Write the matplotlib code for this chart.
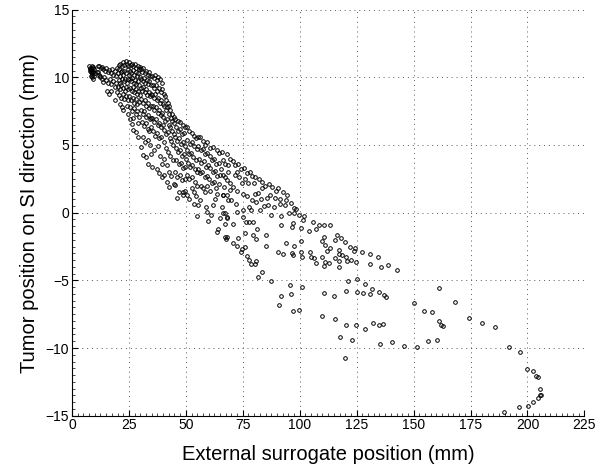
"""Tumor SI position vs external surrogate position scatter."""

import matplotlib
matplotlib.use("Agg")
import matplotlib.pyplot as plt
from matplotlib.ticker import MultipleLocator
import numpy as np

# points, (surrogate mm, tumor mm), grouped by region
top_cluster = [
    (7.6, 10.8), (8.0, 10.7), (8.3, 10.6), (8.7, 10.8), (9.0, 10.5), (9.3, 10.7), (7.8, 10.5),
    (8.2, 10.4), (8.6, 10.3), (9.0, 10.2), (9.4, 10.4), (9.8, 10.6), (8.4, 10.1), (8.9, 10.0),
    (9.2, 9.9), (9.6, 10.1), (10.0, 10.3), (7.7, 10.65), (8.5, 10.55), (9.1, 10.75),
]

band_10_20 = [
    (11.5, 10.8), (12.0, 10.85), (12.6, 10.7), (13.2, 10.75), (13.8, 10.6), (14.5, 10.5),
    (15.0, 10.7), (15.6, 10.4), (16.3, 10.55), (17.0, 10.3), (17.5, 10.6), (18.2, 10.2),
    (18.8, 10.45), (19.5, 10.1), (19.8, 10.7), (11.0, 10.4), (11.8, 10.2), (12.5, 10.1),
    (13.3, 9.9), (14.1, 10.0), (15.0, 9.8), (15.8, 9.6), (16.5, 9.9), (17.3, 9.5), (18.0, 9.7),
    (18.7, 9.3), (19.4, 9.6), (11.3, 10.37), (12.3, 10.0), (13.8, 9.64), (15.3, 9.02),
    (17.2, 8.97), (18.9, 8.36), (16.2, 8.8), (19.9, 8.9),
]

band_20_30 = [
    (20.5, 10.9), (21.2, 11.0), (21.8, 10.8), (22.5, 11.1), (23.0, 10.9), (23.6, 11.2),
    (24.2, 11.0), (24.8, 10.85), (20.8, 10.6), (22.0, 10.5), (20.3, 10.3), (21.0, 10.1),
    (21.7, 10.4), (22.3, 10.2), (23.0, 10.5), (23.7, 10.3), (24.4, 10.6), (24.9, 10.2),
    (20.6, 9.8), (21.3, 9.6), (22.0, 9.9), (22.7, 9.7), (23.4, 9.9), (24.1, 9.6), (24.7, 9.85),
    (20.2, 9.3), (21.0, 9.1), (21.7, 9.4), (22.4, 9.2), (23.1, 9.0), (23.8, 9.3), (24.5, 9.1),
    (20.8, 8.7), (21.5, 8.5), (22.3, 8.8), (23.0, 8.4), (23.7, 8.6), (24.4, 8.3), (21.1, 8.05),
    (21.9, 7.8), (22.6, 7.55), (24.0, 7.9), (24.8, 7.3),
    (25.2, 11.1), (25.8, 10.9), (26.4, 11.0), (27.0, 10.8), (27.6, 10.95), (28.2, 10.7),
    (28.8, 10.85), (29.4, 10.6), (29.9, 10.75), (25.5, 10.5), (26.1, 10.3), (26.7, 10.55),
    (27.3, 10.2), (27.9, 10.4), (28.5, 10.1), (29.1, 10.3), (29.7, 10.0), (25.3, 9.9),
    (25.9, 9.7), (26.5, 9.95), (27.1, 9.6), (27.7, 9.8), (28.3, 9.5), (28.9, 9.7), (29.5, 9.4),
    (25.6, 9.2), (26.2, 9.0), (26.8, 9.3), (27.4, 8.9), (28.0, 9.1), (28.6, 8.8), (29.2, 9.0),
    (29.8, 8.7), (25.2, 8.6), (25.9, 8.3), (26.6, 8.5), (27.3, 8.1), (28.0, 8.4), (28.7, 8.0),
    (29.4, 8.2), (25.5, 7.8), (26.3, 7.5), (27.1, 7.7), (27.9, 7.3), (28.6, 7.5), (29.5, 7.1),
    (25.5, 6.94), (26.3, 6.57), (27.0, 6.08), (28.2, 5.96), (29.2, 5.59), (26.8, 7.0), (28.9, 6.6),
]

band_30_40 = [
    (30.2, 10.6), (30.8, 10.4), (31.4, 10.7), (32.0, 10.3), (32.6, 10.5), (33.2, 10.2),
    (33.8, 10.4), (34.4, 10.1), (30.4, 9.9), (31.0, 9.7), (31.6, 9.95), (32.2, 9.6), (32.8, 9.8),
    (33.4, 9.5), (34.0, 9.7), (34.7, 9.4), (30.1, 9.2), (30.7, 9.0), (31.3, 9.3), (31.9, 8.9),
    (32.5, 9.1), (33.1, 8.7), (33.7, 8.9), (34.3, 8.6), (34.9, 8.8), (30.5, 8.4), (31.2, 8.1),
    (31.9, 8.3), (32.6, 7.9), (33.3, 8.1), (34.0, 7.7), (34.7, 7.9), (30.3, 7.6), (31.0, 7.3),
    (31.8, 7.5), (32.5, 7.1), (33.3, 7.2), (34.1, 6.9), (34.8, 7.0), (30.6, 6.7), (31.5, 6.4),
    (32.4, 6.6), (33.2, 6.2), (34.0, 6.0), (34.8, 6.3), (30.2, 4.85), (31.4, 4.24), (32.5, 4.12),
    (33.6, 3.63), (31.0, 5.6), (32.0, 5.2), (33.2, 5.4), (34.3, 5.0), (34.6, 4.3),
    (35.2, 10.1), (35.8, 9.96), (36.5, 10.2), (37.2, 9.8), (37.9, 10.0), (38.7, 9.9), (39.4, 9.6),
    (35.4, 9.4), (36.1, 9.2), (36.8, 9.45), (37.5, 9.0), (38.2, 9.2), (38.9, 8.9), (39.6, 9.1),
    (35.1, 8.7), (35.8, 8.5), (36.5, 8.75), (37.2, 8.3), (37.9, 8.5), (38.6, 8.1), (39.3, 8.3),
    (39.9, 8.0), (35.5, 7.9), (36.2, 7.6), (36.9, 7.8), (37.6, 7.4), (38.3, 7.6), (39.0, 7.2),
    (39.7, 7.4), (35.3, 7.0), (36.0, 6.7), (36.8, 6.9), (37.6, 6.5), (38.4, 6.6), (39.2, 6.3),
    (39.9, 6.5), (35.6, 6.0), (36.5, 5.7), (37.4, 5.9), (38.3, 5.5), (39.1, 5.6), (35.0, 3.39),
    (37.2, 3.25), (36.2, 4.6), (37.8, 4.9), (38.8, 4.2), (39.5, 3.6), (38.0, 2.9), (39.6, 2.6),
]

band_40_60 = [
    (40.2, 8.8), (41.2, 8.3), (40.8, 8.6), (42.0, 8.1), (43.1, 7.55), (42.6, 7.9), (44.0, 7.3),
    (44.7, 7.1), (40.4, 7.9), (41.1, 7.6), (41.8, 7.8), (42.5, 7.3), (43.3, 7.0), (44.1, 6.8),
    (44.8, 6.6), (40.1, 7.1), (40.9, 6.8), (41.7, 6.95), (42.4, 6.5), (43.2, 6.3), (44.0, 6.0),
    (44.7, 5.8), (40.5, 6.1), (41.3, 5.8), (42.1, 5.95), (42.9, 5.5), (43.7, 5.3), (44.5, 5.0),
    (40.3, 5.2), (41.2, 4.8), (42.2, 4.5), (43.2, 4.2), (44.2, 3.9), (40.6, 4.0), (41.6, 3.5),
    (42.6, 3.0), (43.6, 2.7), (41.6, 2.27), (44.6, 2.15), (42.8, 1.9), (40.3, 2.8),
    (45.3, 6.9), (46.4, 6.8), (47.5, 6.7), (48.6, 6.5), (49.5, 6.3), (45.6, 6.3), (46.5, 6.0),
    (47.4, 6.2), (48.3, 5.8), (49.2, 5.9), (45.2, 5.6), (46.1, 5.3), (47.0, 5.5), (47.9, 5.1),
    (48.8, 5.2), (49.7, 4.9), (45.5, 4.8), (46.4, 4.5), (47.3, 4.6), (48.2, 4.2), (49.1, 4.3),
    (49.9, 4.0), (45.8, 3.9), (46.8, 3.6), (47.8, 3.7), (48.8, 3.3), (49.6, 3.4), (45.3, 3.0),
    (46.3, 2.6), (47.4, 2.8), (48.5, 2.4), (49.5, 2.5), (45.3, 2.03), (47.1, 1.53), (48.9, 1.53),
    (48.9, 1.29), (46.2, 1.1), (49.8, 1.6),
    (50.4, 6.3), (51.5, 6.0), (52.5, 5.9), (53.4, 5.7), (54.4, 5.5), (50.7, 5.4), (51.7, 5.1),
    (52.7, 5.2), (53.7, 4.9), (54.7, 4.7), (50.3, 4.6), (51.3, 4.3), (52.3, 4.4), (53.3, 4.1),
    (54.3, 3.9), (50.8, 3.7), (51.8, 3.4), (52.8, 3.5), (53.8, 3.2), (54.8, 3.0), (50.5, 2.8),
    (51.6, 2.5), (52.7, 2.6), (53.8, 2.3), (54.8, 2.0), (51.2, 1.04), (53.4, 0.67), (53.6, 1.53),
    (52.5, 1.8), (50.5, 1.3), (54.6, 1.2),
    (55.2, 5.6), (56.3, 5.6), (57.7, 5.3), (59.2, 5.2), (58.4, 5.0), (55.5, 4.9), (56.5, 4.6),
    (57.5, 4.7), (58.5, 4.3), (59.5, 4.4), (55.8, 4.0), (56.8, 3.7), (57.8, 3.8), (58.8, 3.4),
    (59.8, 3.5), (55.3, 3.2), (56.3, 2.9), (57.3, 3.0), (58.3, 2.6), (59.3, 2.7), (55.5, 0.55),
    (56.0, 0.97), (58.2, 1.53), (58.8, 0.43), (59.2, 0.06), (55.1, -0.23), (59.6, -0.6),
    (56.5, 2.0), (57.6, 1.8), (59.4, 2.0),
]

band_60_100 = [
    (60.7, 4.8), (62.1, 4.85), (63.6, 4.6), (64.6, 4.4), (60.4, 4.2), (61.4, 3.9), (62.4, 4.0),
    (63.4, 3.6), (64.4, 3.7), (60.8, 3.3), (61.8, 3.0), (62.8, 3.1), (63.8, 2.7), (64.8, 2.8),
    (60.3, 2.5), (61.3, 2.2), (62.3, 2.3), (64.5, 2.15), (63.2, 1.85), (63.6, 1.41),
    (62.9, 1.04), (61.1, -0.18), (64.3, -1.17), (63.6, -1.41), (61.8, 0.6), (60.5, 1.6),
    (65.8, 4.5), (66.5, 3.9), (68.0, 4.35), (68.7, 3.5), (68.7, 3.0), (67.3, 3.6), (69.6, 4.0),
    (65.3, 3.2), (66.2, 2.8), (67.2, 2.6), (68.2, 2.4), (69.2, 2.2), (66.2, 1.29), (65.8, 0.43),
    (66.5, -0.06), (68.0, -0.31), (68.0, -1.78), (67.6, -1.95), (68.7, 0.92), (67.1, -1.83),
    (66.4, 1.29), (68.0, 1.34), (69.9, 0.92), (67.0, -0.06), (67.0, -0.8), (68.0, -0.43),
    (65.1, -0.43), (66.8, 1.9), (69.5, 1.7),
    (70.6, -2.22), (72.4, -2.49), (74.3, -2.91), (74.6, -2.69), (75.8, -2.54), (76.9, -3.23),
    (77.7, -3.5), (78.4, -3.77), (80.2, -3.77), (80.6, -3.6), (79.4, -1.68), (80.6, -1.98),
    (81.3, -1.22), (75.8, -1.49), (73.1, -1.9), (76.5, -0.72), (77.8, -0.72), (79.4, -0.72),
    (75.3, -0.31), (74.9, 0.18), (78.5, 0.21), (77.9, 0.43), (82.6, 0.18), (84.3, 0.5),
    (86.0, 0.6), (87.5, -0.14), (88.5, 0.43), (89.3, 1.12), (89.7, 1.61), (91.2, 0.63),
    (91.7, -0.26), (92.0, -0.9), (93.6, 0.55), (95.2, -0.06), (96.5, -1.04), (96.98, -0.75),
    (97.3, -0.06), (97.6, 0.33), (84.6, 1.98), (83.4, 1.85), (80.3, 1.41), (81.9, 1.48),
    (80.0, 2.2), (77.5, 2.2), (74.6, 2.2), (72.0, 0.63), (72.4, 0.06), (70.9, -0.8),
    (70.5, 3.8), (71.8, 3.5), (73.0, 3.6), (74.2, 3.2), (75.5, 3.3), (76.8, 2.9), (78.0, 3.0),
    (79.2, 2.7), (80.5, 2.6), (71.5, 2.8), (73.5, 2.6), (72.6, 3.0), (76.0, 2.5), (82.0, 2.5),
    (83.5, 2.3), (86.5, 2.1), (88.0, 1.9), (90.5, 1.8), (92.5, 1.5), (94.5, 1.3), (70.8, 1.9),
    (72.3, 1.6), (75.0, 1.4), (77.0, 1.2), (79.0, 0.9), (81.0, 0.8), (83.0, 1.0), (85.5, 1.1),
    (87.0, 1.3), (91.5, 1.0), (94.0, 0.9), (96.0, 0.7), (98.5, 0.3), (99.5, -0.2),
    (85.3, -2.47), (85.3, -1.66), (90.6, -2.89), (92.6, -3.06), (94.1, -2.27), (96.4, -3.01),
    (96.98, -3.16), (97.7, -2.49),
]

band_100_145 = [
    (100.4, -2.12), (101.1, -3.25), (100.7, -2.91), (100.7, -1.12), (101.4, -0.55), (102.0, -0.23),
    (104.0, -1.34), (105.8, -0.7), (107.2, -1.17), (108.3, -0.92), (110.5, -0.94), (113.4, -0.94),
    (110.5, -1.78), (110.0, -2.12), (110.9, -2.42), (112.2, -2.81), (113.4, -2.64), (109.7, -3.3),
    (111.2, -3.62), (110.6, -3.96), (112.8, -3.74), (107.1, -3.74), (104.9, -3.25), (104.6, -2.88),
    (106.3, -3.33), (115.6, -2.03), (116.5, -1.63), (118.2, -1.85), (119.7, -2.18), (117.1, -2.76),
    (117.3, -3.06), (118.5, -3.11), (115.6, -3.33), (117.1, -3.6), (117.1, -4.02), (120.4, -3.26),
    (120.9, -3.57), (122.3, -2.52), (122.6, -3.53), (123.8, -2.84), (124.1, -2.59), (124.8, -3.65),
    (127.2, -2.89), (131.0, -3.03), (134.3, -3.28), (130.7, -3.8), (135.8, -3.99), (138.7, -3.89),
    (142.7, -4.21),
]

lower_fringe = [
    (81.6, -4.75), (83.5, -4.38), (87.3, -5.03), (92.0, -6.13), (91.1, -6.79), (95.8, -5.34),
    (96.3, -6.03), (96.9, -7.28), (99.9, -7.18), (100.9, -5.47), (109.9, -7.65), (110.6, -5.91),
    (115.0, -6.16), (115.4, -7.82), (117.5, -9.2), (120.0, -10.77), (120.4, -8.31), (120.4, -5.78),
    (121.4, -5.03), (122.9, -9.42), (124.8, -8.29), (125.1, -5.86), (125.2, -4.93), (127.9, -5.93),
    (128.8, -5.24), (128.8, -8.59), (131.0, -6.03), (131.9, -5.66), (132.0, -8.12), (134.6, -8.29),
    (134.6, -5.86), (135.4, -9.71), (136.7, -8.24), (136.8, -6.06), (137.9, -6.25), (140.5, -9.59),
    (146.0, -9.84), (150.4, -6.69), (151.5, -9.96), (154.4, -7.28), (156.3, -9.49), (158.3, -7.36),
    (160.1, -9.42), (161.3, -5.54), (161.1, -8.02), (161.9, -8.27), (162.9, -8.37),
]

far_loop = [
    (168.3, -6.6), (174.5, -7.8), (179.9, -8.12), (185.9, -8.41), (192.0, -9.91), (196.9, -10.26),
    (200.0, -11.56), (202.3, -11.71), (203.8, -12.03), (204.5, -12.15), (205.7, -13.03),
    (205.4, -13.47), (205.9, -13.5), (204.5, -13.67), (202.3, -14.01), (200.4, -14.31),
    (196.1, -14.36), (189.9, -14.73),
]

x_ticks = [0, 25, 50, 75, 100, 125, 150, 175, 200, 225]
y_ticks = [-15, -10, -5, 0, 5, 10, 15]

groups = [top_cluster, band_10_20, band_20_30, band_30_40, band_40_60,
          band_60_100, band_100_145, lower_fringe, far_loop]
pts = np.array([p for g in groups for p in g])

plt.rcParams["font.family"] = ["Liberation Sans", "DejaVu Sans"]

fig = plt.figure(figsize=(6.1, 4.7), dpi=100)
ax = fig.add_axes([0.118, 0.1155, 0.840, 0.864])

ax.plot(pts[:, 0], pts[:, 1], linestyle="none", marker="o", ms=2.6,
        mfc="none", mec="black", mew=0.7)

ax.set_xlim(0, 225)
ax.set_ylim(-15, 15)
ax.set_xticks(x_ticks)
ax.set_yticks(y_ticks)
ax.xaxis.set_minor_locator(MultipleLocator(2.5))
ax.yaxis.set_minor_locator(MultipleLocator(0.5))
ax.grid(True, which="major", linestyle=(0, (1, 4)), color="0.35", linewidth=0.7)
ax.set_axisbelow(True)
for side in ("top", "right"):
    ax.spines[side].set_visible(False)
ax.tick_params(which="major", direction="in", length=4, labelsize=10, pad=2)
ax.tick_params(which="minor", direction="in", length=2, width=0.5)
ax.set_xlabel("External surrogate position (mm)", fontsize=14.5, labelpad=9)
ax.set_ylabel("Tumor position on SI direction (mm)", fontsize=14.5, labelpad=5)

fig.savefig("out.png", dpi=100)
